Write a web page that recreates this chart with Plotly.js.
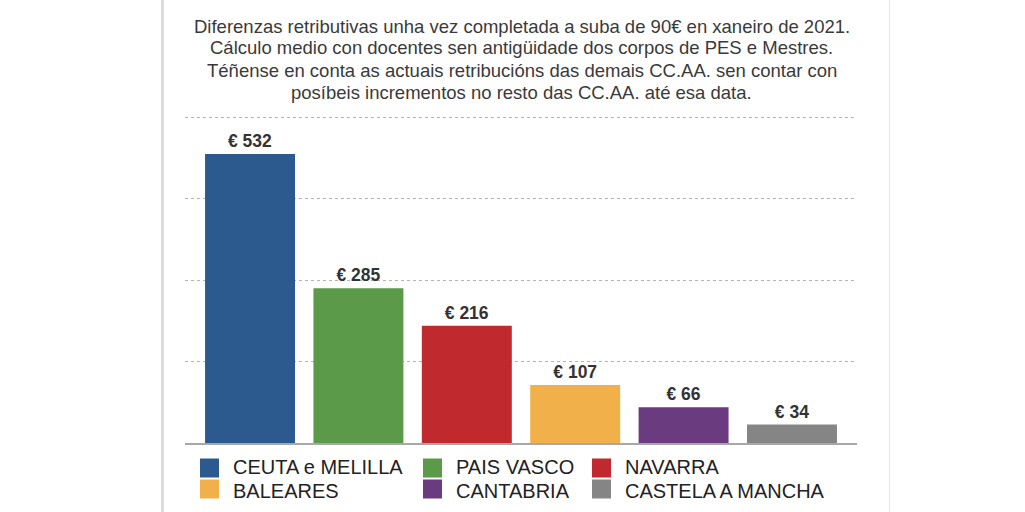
<!DOCTYPE html>
<html>
<head>
<meta charset="utf-8">
<script src="https://cdn.plot.ly/plotly-3.0.1.min.js"></script>
<style>
  html, body { margin: 0; padding: 0; background: #fff; }
  #chart { width: 1025px; height: 512px; }
</style>
</head>
<body>
<div id="chart"></div>
<script>
// Salary gap (€) per autonomous community
const regions = ['CEUTA e MELILLA', 'PAIS VASCO', 'NAVARRA', 'BALEARES', 'CANTABRIA', 'CASTELA A MANCHA'];
const diffs = [532, 285, 216, 107, 66, 34];
const colors = ['#2d5a8e', '#5b9a48', '#c0292d', '#f2b04b', '#6b3b80', '#858585'];
const gridVals = [150, 300, 450, 600];
const titleLines = [
  'Diferenzas retributivas unha vez completada a suba de 90€ en xaneiro de 2021.',
  'Cálculo medio con docentes sen antigüidade dos corpos de PES e Mestres.',
  'Téñense en conta as actuais retribucións das demais CC.AA. sen contar con',
  'posíbeis incrementos no resto das CC.AA. até esa data.'
];

// Page geometry (pixels)
const W = 1025, H = 512;
const M = { l: 185, r: 168, t: 115, b: 69 };
const plotW = W - M.l - M.r, plotH = H - M.t - M.b;
const px2x = p => (p - M.l) / plotW;
const py2y = p => (H - M.b - p) / plotH;

const FONT = 'Liberation Sans, Arial, Helvetica, sans-serif';

const trace = {
  type: 'bar',
  x: regions,
  y: diffs,
  width: 0.83,
  marker: { color: colors, line: { width: 0 } },
  texttemplate: '€ %{y}',
  textposition: 'outside',
  textfont: { family: FONT, size: 17.5, color: '#333333', weight: 'bold' },
  cliponaxis: false,
  hoverinfo: 'skip',
  showlegend: false
};

const shapes = [];
const annotations = [];

// Heading, one line per annotation
const titleY = [26, 48, 70.5, 92];
titleLines.forEach((line, i) => {
  annotations.push({
    xref: 'paper', yref: 'paper',
    x: px2x(521.5), y: py2y(titleY[i]),
    xanchor: 'center', yanchor: 'middle',
    text: line, showarrow: false, borderpad: 0,
    font: { family: FONT, size: 18.5, color: '#3a3a3a' }
  });
});

// Legend: three columns, two rows, built from the same arrays
const legCols = [200, 423, 592];
const legRows = [468, 489];
const legTextRows = [467, 490.5];
const sw = 19;
regions.forEach((name, i) => {
  const col = i % 3, row = Math.floor(i / 3);
  const cx = legCols[col];
  const cy = legRows[row];
  shapes.push({
    type: 'rect', xref: 'paper', yref: 'paper',
    x0: px2x(cx), x1: px2x(cx + sw),
    y0: py2y(cy + sw / 2), y1: py2y(cy - sw / 2),
    fillcolor: colors[i], line: { width: 0 }
  });
  annotations.push({
    xref: 'paper', yref: 'paper',
    x: px2x(cx + 32), y: py2y(legTextRows[row]),
    xanchor: 'left', yanchor: 'middle',
    text: name, showarrow: false, borderpad: 0,
    font: { family: FONT, size: 20, color: '#222222' }
  });
});

// Panel borders
shapes.push({
  type: 'line', xref: 'paper', yref: 'paper', layer: 'below',
  x0: px2x(162.5), x1: px2x(162.5), y0: py2y(0), y1: py2y(H),
  line: { color: '#dcdcdc', width: 3 }
});
shapes.push({
  type: 'line', xref: 'paper', yref: 'paper', layer: 'below',
  x0: px2x(889.5), x1: px2x(889.5), y0: py2y(0), y1: py2y(H),
  line: { color: '#e6e6e6', width: 1 }
});

const layout = {
  width: W, height: H,
  margin: M,
  paper_bgcolor: '#ffffff',
  plot_bgcolor: '#ffffff',
  showlegend: false,
  xaxis: {
    type: 'category',
    range: [-0.6, 5.6],
    showticklabels: false,
    ticks: '',
    showgrid: false,
    zeroline: false,
    showline: true,
    linecolor: '#a8a8a8',
    linewidth: 2,
    fixedrange: true
  },
  yaxis: {
    range: [0, 604],
    tickvals: gridVals,
    showticklabels: false,
    ticks: '',
    showgrid: true,
    gridcolor: '#b4b4b4',
    gridwidth: 1,
    griddash: 'dot',
    zeroline: false,
    showline: false,
    fixedrange: true
  },
  shapes: shapes,
  annotations: annotations
};

Plotly.newPlot('chart', [trace], layout, { displayModeBar: false, staticPlot: true });
</script>
</body>
</html>
